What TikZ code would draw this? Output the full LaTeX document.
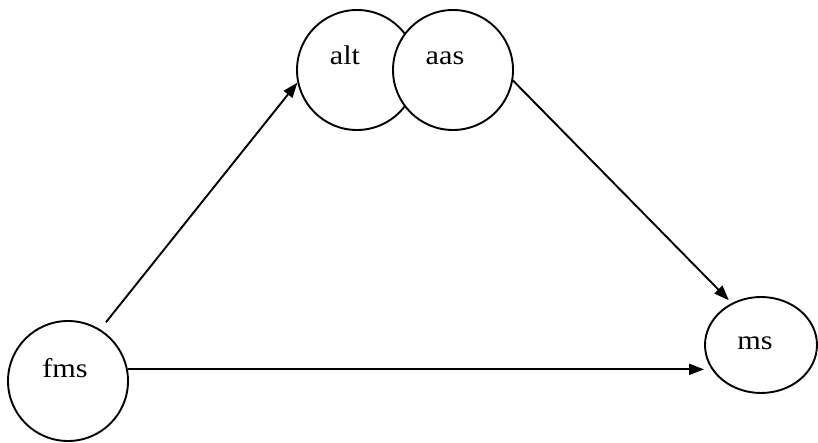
\documentclass[tikz,border=0pt]{standalone}
\usepackage{fontspec}
\setmainfont{Liberation Serif}[FakeStretch=1.12]
\usetikzlibrary{arrows.meta,shapes.geometric}
\tikzset{
  circ/.style={circle,draw=black,fill=white,line width=1.9bp,minimum size=120bp,inner sep=0pt},
  ell/.style={ellipse,draw=black,fill=white,line width=1.9bp,minimum width=112bp,minimum height=96bp,inner sep=0pt},
  lbl/.style={anchor=base,inner sep=0pt,font=\fontsize{27bp}{32bp}\selectfont},
  arr/.style={draw=black,line width=1.9bp,-{Triangle[length=15bp,width=11bp]}}
}
\begin{document}
\begin{tikzpicture}[x=1bp,y=-1bp]
\useasboundingbox (0,0) rectangle (818,443);
\node[circ] (fms) at (68,381) {};
\node[circ] (alt) at (357,70) {};
\node[circ] (aas) at (453,70) {};
\node[ell] (ms) at (761,345) {};
\node[lbl] (tfms) at (65,377.5) {fms};
\node[lbl] (talt) at (345,64.5) {alt};
\node[lbl] (taas) at (445,64.5) {aas};
\node[lbl] (tms) at (755,350) {ms};
\draw[arr,shorten <=9bp] (fms.58) -- (alt.192);
\draw[arr,shorten >=4bp] (aas.-10) -- (ms.125);
\draw[arr] (fms.11) -- (fms.11 -| ms.west);
\end{tikzpicture}
\end{document}
